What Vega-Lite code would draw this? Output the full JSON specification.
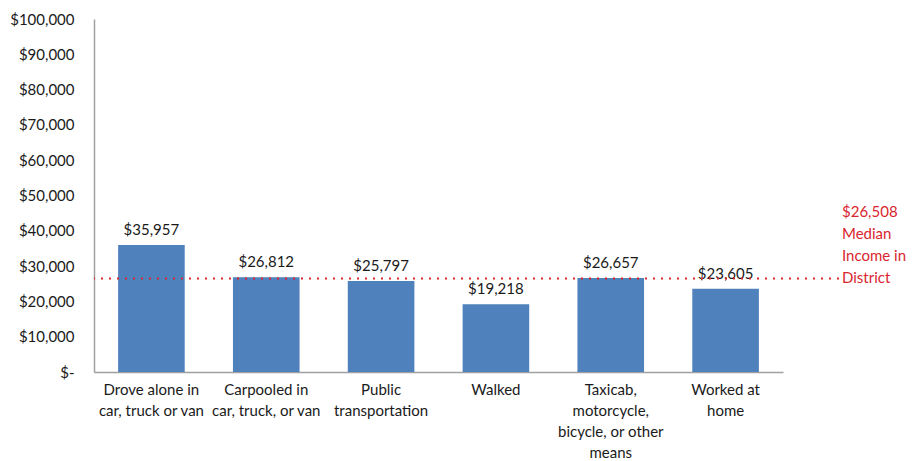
{
  "$schema": "https://vega.github.io/schema/vega-lite/v6.json",
  "autosize": "none",
  "width": 745,
  "height": 353,
  "padding": {"left": 94, "top": 19, "right": 74, "bottom": 89},
  "background": "white",
  "config": {"view": {"stroke": null}, "font": "Lato"},
  "datasets": {
    "bars": [
      {"mode": "Drove alone in|car, truck or van", "income": 35957},
      {"mode": "Carpooled in|car, truck, or van", "income": 26812},
      {"mode": "Public|transportation", "income": 25797},
      {"mode": "Walked", "income": 19218},
      {"mode": "Taxicab,|motorcycle,|bicycle, or other|means", "income": 26657},
      {"mode": "Worked at|home", "income": 23605}
    ],
    "median": [{"income": 26508, "label": ["$26,508", "Median", "Income in", "District"]}]
  },
  "layer": [
    {
      "data": {"name": "bars"},
      "mark": {"type": "bar", "color": "#4F81BD"},
      "encoding": {
        "x": {
          "field": "mode", "type": "nominal", "sort": null,
          "scale": {"range": [0, 689], "paddingInner": 0.42, "paddingOuter": 0.21},
          "axis": {
            "title": null, "labelAngle": 0, "ticks": false, "domainColor": "#A0A0A0", "domainWidth": 1.5,
            "labelExpr": "split(datum.value, '|')", "labelFontSize": 15, "labelColor": "#1a1a1a",
            "labelPadding": 10, "labelLineHeight": 21, "labelLimit": 200
          }
        },
        "y": {
          "field": "income", "type": "quantitative",
          "scale": {"domain": [0, 100000]},
          "axis": {
            "title": null, "ticks": false, "grid": false, "tickCount": 10, "domainColor": "#A0A0A0", "domainWidth": 1.5,
            "labelExpr": "datum.value == 0 ? '$-' : '$' + format(datum.value, ',')",
            "labelFontSize": 15, "labelColor": "#1a1a1a", "labelPadding": 20
          }
        }
      }
    },
    {
      "data": {"name": "bars"},
      "mark": {"type": "text", "baseline": "bottom", "dy": -7, "fontSize": 15, "color": "#1a1a1a"},
      "encoding": {
        "x": {"field": "mode", "type": "nominal", "sort": null},
        "y": {"field": "income", "type": "quantitative"},
        "text": {"field": "income", "type": "quantitative", "format": "$,"}
      }
    },
    {
      "data": {"name": "median"},
      "mark": {"type": "rule", "color": "#D9262E", "strokeWidth": 2, "strokeDash": [2, 6]},
      "encoding": {"y": {"field": "income", "type": "quantitative"}}
    },
    {
      "data": {"name": "median"},
      "mark": {"type": "text", "align": "left", "baseline": "bottom", "dx": 3, "dy": -58, "fontSize": 15, "lineHeight": 22, "color": "#D9262E"},
      "encoding": {
        "x": {"value": "width"},
        "y": {"field": "income", "type": "quantitative"},
        "text": {"field": "label"}
      }
    }
  ]
}
